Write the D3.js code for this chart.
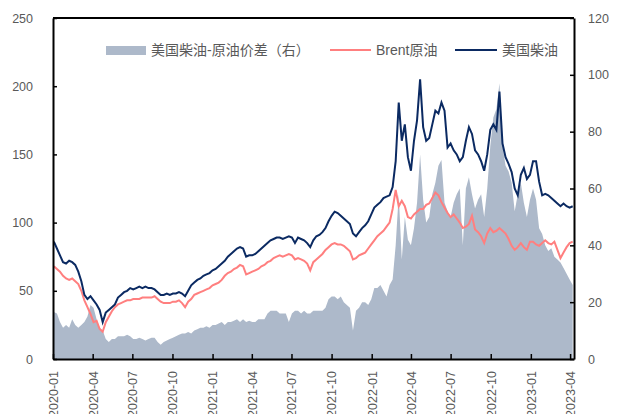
<!DOCTYPE html>
<html><head><meta charset="utf-8">
<script src="https://cdn.jsdelivr.net/npm/d3@7"></script>
<style>body{margin:0;background:#fff}svg{display:block}</style>
</head><body>
<script>
// weekly observations starting 2020-01-03
const startDate = "2020-01-03";
const stepDays = 7;
const diesel = [86,81,76,71,70,72,71,69,64,57,47,44,46,43,40,36,27,34,36,38,40,45,47,49,50,52,51,52,53,52,53,52,52,51,49,47,47,48,47,48,48,49,48,46,50,54,56,58,59,61,62,63,65,66,68,70,72,75,77,79,81,82,81,75,76,76,77,79,81,83,85,87,88,89,89,88,89,90,89,85,89,88,87,85,82,87,90,91,93,96,101,105,108,107,105,103,101,99,92,90,93,96,98,101,106,111,113,115,118,119,120,126,145,188,160,172,148,138,160,175,205,170,160,162,172,182,180,188,182,155,158,153,150,145,148,160,170,165,153,150,145,138,150,168,172,168,196,158,148,143,137,125,120,135,140,132,135,145,145,130,120,121,120,118,116,114,112,114,112,111,112];
const brent = [68,66,64,61,59,58,59,57,55,50,43,38,33,27,28,22,20,27,31,35,38,40,41,42,43,43,44,44,44,45,45,45,45,46,44,42,41,41,41,42,42,43,41,38,42,44,47,48,49,50,51,52,54,55,56,58,61,63,64,66,67,69,68,62,63,64,65,66,68,69,71,72,74,75,76,75,76,77,76,73,74,73,72,70,65,71,73,75,77,80,82,84,85,84,84,83,81,79,73,74,76,77,78,81,84,87,90,92,94,97,100,110,124,112,116,112,104,103,106,108,110,110,113,114,118,122,120,115,111,107,104,106,103,100,96,97,99,105,95,93,90,85,92,96,93,94,96,94,92,88,83,80,82,85,82,80,86,86,84,83,85,87,85,84,86,80,74,78,82,85,86];
const spread = [16.5,16,13,11,12,11,14,12,11,12,13,15,19,18,14,11,10,7,6,7,7,8,8,8,8.5,8,7,7,7.5,7,6.5,7,7.5,7.5,6,5,6,6.5,7,7.5,8,8.5,9,9,9.5,9,10,10.5,11,11,11.5,11,12,12,12.5,13,12,13,13,13.5,14,13,14,13,13.5,13,13,14,14,14,16,17,17,17,16,16,16,13,16,17,17,16,17,16,16,17,17,17,17,18,21,22,22,21,22,20,19,18,10,17,18,20,20,19,21,25,25,26,24,22,26,28,40,58,35,50,42,40,46,55,72,56,48,50,58,62,68,70,55,52,50,55,58,60,40,60,64,58,53,56,58,50,60,75,85,88,97,75,68,66,62,52,58,62,55,50,56,60,56,46,44,40,38,39,36,35,34,32,30,28,26];
const leftTicks = [0,50,100,150,200,250];
const rightTicks = [0,20,40,60,80,100,120];
const seriesNames = ["美国柴油-原油价差（右）","Brent原油","美国柴油"];
const colors = {spread:"#adb9ca", brent:"#ff7f7f", diesel:"#0b2a62"};

const W=622,H=414, L=53, R=574, T=18, B=359;
const parse = d3.timeParse("%Y-%m-%d");
const t0 = parse(startDate);
const dates = diesel.map((_,i)=>d3.timeDay.offset(t0, i*stepDays));

const svg = d3.select("body").append("svg").attr("width",W).attr("height",H);
const x = d3.scaleTime().domain([parse("2020-01-01"), parse("2023-04-10")]).range([L,R]);
const yL = d3.scaleLinear().domain([0,250]).range([B,T]);
const yR = d3.scaleLinear().domain([0,120]).range([B,T]);

const font = "'Liberation Sans','Noto Sans CJK SC',sans-serif";

// area
svg.append("path").datum(spread.map((v,i)=>[dates[i],v]))
  .attr("fill",colors.spread)
  .attr("d", d3.area().x(d=>x(d[0])).y0(B).y1(d=>yR(d[1])));

const line = (arr)=>d3.line().x((d,i)=>x(dates[i])).y(d=>yL(d))(arr);
svg.append("path").attr("d",line(brent)).attr("fill","none").attr("stroke",colors.brent).attr("stroke-width",2);
svg.append("path").attr("d",line(diesel)).attr("fill","none").attr("stroke",colors.diesel).attr("stroke-width",2);

// axes
const gL = svg.append("g").attr("transform",`translate(${L},0)`)
  .call(d3.axisLeft(yL).tickValues(leftTicks).tickSizeInner(-4).tickSizeOuter(0).tickPadding(20));
const gR = svg.append("g").attr("transform",`translate(${R},0)`)
  .call(d3.axisRight(yR).tickValues(rightTicks).tickSizeInner(-4).tickSizeOuter(0).tickPadding(14));
const gB = svg.append("g").attr("transform",`translate(0,${B})`)
  .call(d3.axisBottom(x).ticks(d3.timeMonth.every(3)).tickFormat(d3.timeFormat("%Y-%m")).tickSizeInner(-5).tickSizeOuter(0));
[gL,gR,gB].forEach(g=>{
  g.selectAll(".domain").attr("stroke","#000").attr("stroke-width",2);
  g.selectAll(".tick line").attr("stroke","#000").attr("stroke-width",1.5);
  g.selectAll("text").attr("fill","#595959").style("font-family",font).style("font-size","12.5px");
});
gB.selectAll("text").attr("transform","rotate(-90)").attr("text-anchor","end")
  .attr("x",-12).attr("y",0).attr("dy","0.35em");
// top border
svg.append("line").attr("x1",L).attr("x2",R).attr("y1",T).attr("y2",T).attr("stroke","#000").attr("stroke-width",2);

// legend
const lg = svg.append("g").style("font-family",font).style("font-size","14px");
const ly = 50;
lg.append("rect").attr("x",106).attr("y",ly-4).attr("width",40).attr("height",9).attr("fill",colors.spread);
lg.append("text").attr("x",151).attr("y",ly).attr("dy","0.35em").attr("fill","#595959").text(seriesNames[0]);
lg.append("line").attr("x1",330).attr("x2",371).attr("y1",ly).attr("y2",ly).attr("stroke",colors.brent).attr("stroke-width",2);
lg.append("text").attr("x",376).attr("y",ly).attr("dy","0.35em").attr("fill","#595959").text(seriesNames[1]);
lg.append("line").attr("x1",455).attr("x2",497).attr("y1",ly).attr("y2",ly).attr("stroke",colors.diesel).attr("stroke-width",2);
lg.append("text").attr("x",502).attr("y",ly).attr("dy","0.35em").attr("fill","#595959").text(seriesNames[2]);
</script>
</body></html>
